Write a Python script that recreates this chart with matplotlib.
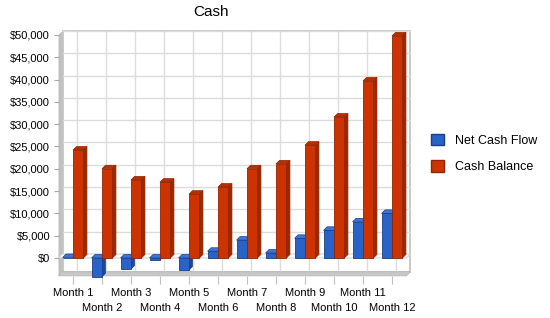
import matplotlib
matplotlib.use("Agg")
import matplotlib.pyplot as plt
from matplotlib.patches import Polygon, Patch
from matplotlib.transforms import ScaledTranslation

plt.rcParams["font.family"] = ["Liberation Sans", "DejaVu Sans"]

months = [f"Month {i}" for i in range(1, 13)]
net_cash_flow = [100, -4200, -2500, -500, -2700, 1500, 4000, 1100, 4400, 6200, 8100, 10000]
cash_balance = [24200, 20000, 17500, 17000, 14300, 15900, 20000, 21100, 25300, 31600, 39700, 49800]
y_ticks = list(range(0, 50001, 5000))

W, H = 550, 318
Y_MIN, Y_MAX = -4000, 50000
WALL_DEPTH = 4.0   # px
BAR_DEPTH = 3.5    # px
BAR_W = 0.36

BLUE = dict(front="#2A63C8", edge="#1A3E8C", side="#1C4896", top="#3C74D8")
RED = dict(front="#CC3300", edge="#8F2400", side="#992A00", top="#B53000")


def face(ax, pts, fc, ec="none", lw=0.8, z=2):
    ax.add_patch(Polygon(pts, closed=True, facecolor=fc, edgecolor=ec,
                         linewidth=lw, clip_on=False, zorder=z))


def draw_bar(ax, x0, x1, v, c, dx, dy, z):
    lo, hi = min(0, v), max(0, v)
    face(ax, [(x1, lo), (x1 + dx, lo + dy), (x1 + dx, hi + dy), (x1, hi)],
         c["side"], c["edge"], 0.5, z)
    face(ax, [(x0, hi), (x1, hi), (x1 + dx, hi + dy), (x0 + dx, hi + dy)],
         c["top"], c["edge"], 0.5, z)
    face(ax, [(x0, lo), (x1, lo), (x1, hi), (x0, hi)], c["front"], c["edge"], 0.6, z)


fig = plt.figure(figsize=(W / 100, H / 100), dpi=100)
left_px, right_px, top_px, bottom_px = 58.5, 406.5, 35.0, 275.8
ax = fig.add_axes([left_px / W, 1 - bottom_px / H,
                   (right_px - left_px) / W, (bottom_px - top_px) / H])
ax.set_xlim(0.5, 12.5)
ax.set_ylim(Y_MIN, Y_MAX)

px_x = (right_px - left_px) / 12.0
px_y = (bottom_px - top_px) / (Y_MAX - Y_MIN)
wdx, wdy = WALL_DEPTH / px_x, WALL_DEPTH / px_y
bdx, bdy = BAR_DEPTH / px_x, BAR_DEPTH / px_y

# back wall
face(ax, [(0.5 + wdx, Y_MIN + wdy), (12.5 + wdx, Y_MIN + wdy),
          (12.5 + wdx, Y_MAX + wdy), (0.5 + wdx, Y_MAX + wdy)],
     "white", "#C0C0C0", 1.2, 0)
for v in y_ticks:
    ax.plot([0.5 + wdx, 12.5 + wdx], [v + wdy, v + wdy], color="#DCDCDC",
            lw=1.0, clip_on=False, zorder=0.5)
for i in range(1, 13):
    ax.plot([i + wdx, i + wdx], [Y_MIN + wdy, Y_MAX + wdy], color="#DCDCDC",
            lw=1.0, clip_on=False, zorder=0.5)

# left wall and floor
face(ax, [(0.5, Y_MIN), (0.5 + wdx, Y_MIN + wdy), (0.5 + wdx, Y_MAX + wdy), (0.5, Y_MAX)],
     "#C0C0C0", z=0.6)
face(ax, [(0.5, Y_MIN), (12.5, Y_MIN), (12.5 + wdx, Y_MIN + wdy), (0.5 + wdx, Y_MIN + wdy)],
     "#C8C8C8", "#B8B8B8", 0.6, 0.6)

# zero plane
face(ax, [(0.5, 0), (12.5, 0), (12.5 + wdx, wdy), (0.5 + wdx, wdy)],
     "white", "#D4D4D4", 0.8, 0.7)

for i, (nf, cb) in enumerate(zip(net_cash_flow, cash_balance), start=1):
    draw_bar(ax, i - BAR_W, i, nf, BLUE, bdx, bdy, 2 + i * 0.01)
    draw_bar(ax, i, i + BAR_W, cb, RED, bdx, bdy, 2 + i * 0.01 + 0.005)

for s in ax.spines.values():
    s.set_visible(False)
ax.patch.set_visible(False)

ax.set_yticks(y_ticks)
ax.set_yticklabels([f"${v:,}" for v in y_ticks], fontsize=8)
ax.set_xticks(range(1, 13))
ax.set_xticklabels(months, fontsize=8)
ax.tick_params(axis="y", length=3.6, color="#A8A8A8", pad=2.5)
ax.tick_params(axis="x", length=6, color="#C0C0C0", pad=3)

# stagger every second month label onto a second row
shift = ScaledTranslation(0, -15 / 100, fig.dpi_scale_trans)
for i, lab in enumerate(ax.get_xticklabels()):
    if i % 2 == 1:
        lab.set_transform(lab.get_transform() + shift)

fig.text(211 / W, 1 - 12.5 / H, "Cash", ha="center", va="center", fontsize=11)

handles = [Patch(facecolor=BLUE["front"], edgecolor=BLUE["edge"]),
           Patch(facecolor=RED["front"], edgecolor=RED["edge"])]
fig.legend(handles, ["Net Cash Flow", "Cash Balance"], loc="upper left",
           bbox_to_anchor=(431 / W, 1 - 133.5 / H), frameon=False, fontsize=9,
           handlelength=1.05, handleheight=1.05, handletextpad=0.9,
           labelspacing=1.1, borderpad=0, borderaxespad=0)

fig.savefig("out.png", dpi=100)
